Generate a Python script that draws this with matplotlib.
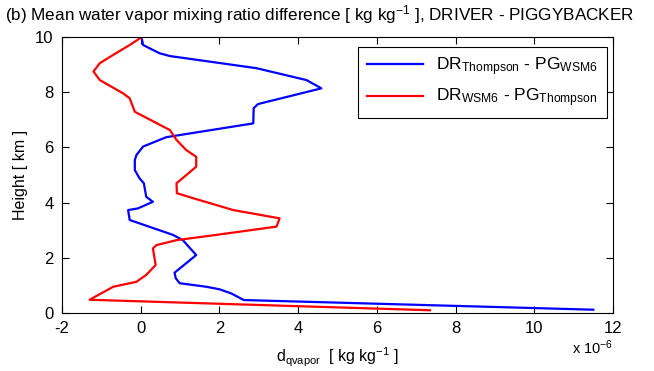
import matplotlib
matplotlib.use("Agg")
import matplotlib.pyplot as plt

plt.rcParams['font.family'] = ['Liberation Sans', 'DejaVu Sans']
plt.rcParams['mathtext.fontset'] = 'custom'
plt.rcParams['mathtext.rm'] = 'Liberation Sans'
plt.rcParams['mathtext.it'] = 'Liberation Sans'
plt.rcParams['mathtext.default'] = 'regular'
plt.rcParams['axes.unicode_minus'] = False

# mixing ratio difference (x 1e-6 kg/kg) vs height (km)
thompson_dq = [11.5, 2.62, 2.30, 2.00, 1.67, 0.99, 0.89, 0.86, 1.41, 1.07, 0.82,
               -0.28, -0.32, -0.07, 0.31, 0.14, 0.08, -0.03, -0.15, -0.15, -0.11,
               0.06, 0.65, 2.86, 2.87, 2.98, 4.59, 4.21, 2.94, 0.74, 0.48, 0.06, 0.02]
thompson_h = [0.12, 0.47, 0.71, 0.86, 0.95, 1.08, 1.26, 1.46, 2.10, 2.64, 2.83,
              3.37, 3.73, 3.79, 4.03, 4.21, 4.70, 4.88, 5.18, 5.54, 5.72,
              6.03, 6.37, 6.87, 7.42, 7.57, 8.14, 8.44, 8.87, 9.31, 9.41, 9.71, 10.0]

wsm6_dq = [7.35, -1.30, -0.70, -0.11, 0.14, 0.38, 0.31, 0.40, 0.91, 1.92, 3.45,
           3.53, 2.35, 1.33, 0.92, 0.91, 1.41, 1.41, 1.16, 0.91, 0.74, -0.15,
           -0.28, -0.45, -1.04, -1.20, -1.04, -0.70, -0.28, 0.02]
wsm6_h = [0.10, 0.48, 0.95, 1.13, 1.38, 1.74, 2.34, 2.46, 2.64, 2.83, 3.13,
          3.43, 3.73, 4.16, 4.34, 4.70, 5.30, 5.66, 5.90, 6.27, 6.63, 7.29,
          7.78, 7.96, 8.44, 8.75, 9.05, 9.35, 9.71, 9.99]

xticks = [-2, 0, 2, 4, 6, 8, 10, 12]
yticks = [0, 2, 4, 6, 8, 10]

fig = plt.figure(figsize=(6.54, 3.71), dpi=100)
ax = fig.add_axes([0.0948, 0.1563, 0.8425, 0.744])

ax.plot(thompson_dq, thompson_h, color='#0000ff', lw=1.6,
        label=r'DR$_{Thompson}$ - PG$_{WSM6}$')
ax.plot(wsm6_dq, wsm6_h, color='#ff0000', lw=1.6,
        label=r'DR$_{WSM6}$ - PG$_{Thompson}$')

ax.set_xlim(-2, 12)
ax.set_ylim(0, 10)
ax.set_xticks(xticks)
ax.set_yticks(yticks)
ax.tick_params(direction='in', length=5, width=0.8, top=True, right=True,
               labelsize=12, pad=6)
for s in ax.spines.values():
    s.set_linewidth(0.8)

ax.set_ylabel('Height [ km ]', fontsize=11.5, labelpad=5)
ax.set_xlabel(r'd$_{qvapor}$  [ kg kg$^{-1}$ ]', fontsize=11.5, labelpad=7)
fig.text(0.875, 0.045, r'x 10$^{-6}$', fontsize=10.5)
fig.text(0.008, 0.945, r'(b) Mean water vapor mixing ratio difference [ kg kg$^{-1}$ ], DRIVER - PIGGYBACKER',
         fontsize=12.3)

leg = ax.legend(loc='upper right', bbox_to_anchor=(0.989, 0.964), borderaxespad=0,
                fontsize=12.5, handlelength=3.2, fancybox=False, framealpha=1,
                edgecolor='black', labelspacing=0.5, borderpad=0.5)
leg.get_frame().set_linewidth(0.8)

fig.savefig('out.png', dpi=100)
